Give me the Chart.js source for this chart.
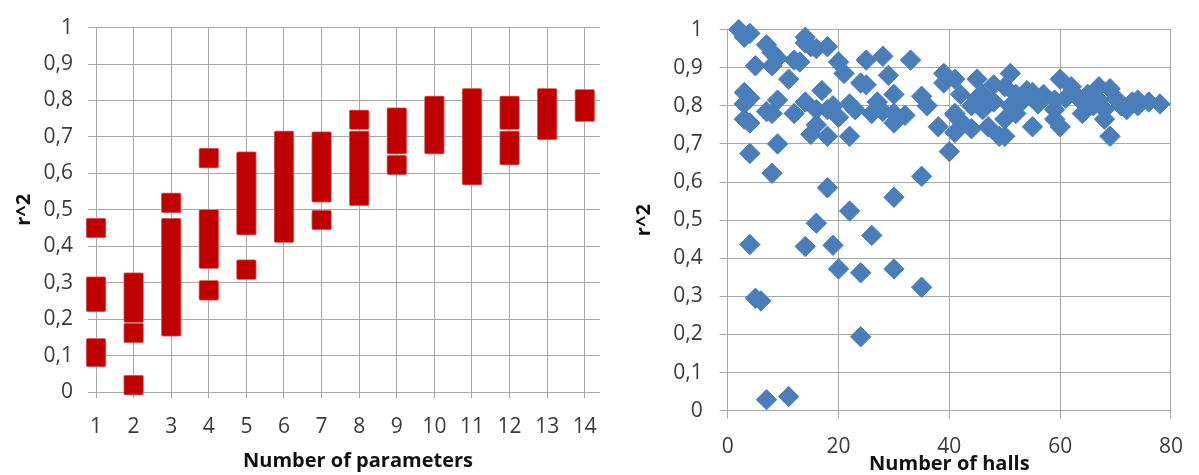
<!DOCTYPE html>
<html>
<head>
<meta charset="utf-8">
<script src="https://cdn.jsdelivr.net/npm/chart.js@4/dist/chart.umd.min.js"></script>
<style>
  html, body { margin: 0; padding: 0; background: #fff; }
  body { width: 1199px; height: 475px; position: relative; overflow: hidden; }
  #paramsBox { position: absolute; left: 0; top: 0; width: 600px; height: 475px; overflow: hidden; }
  #hallsBox { position: absolute; left: 600px; top: 0; width: 599px; height: 475px; }
  canvas { position: absolute; left: 0; top: 0; }
</style>
</head>
<body>
<div id="paramsBox"><canvas id="params" width="631" height="475"></canvas></div>
<div id="hallsBox"><canvas id="halls" width="599" height="475"></canvas></div>
<script>
// ---- r^2 by number of model parameters: each span is a run of model results (min and max r^2)
const paramCounts = [1, 2, 3, 4, 5, 6, 7, 8, 9, 10, 11, 12, 13, 14];
const spanParam = [1, 1, 1, 2, 2, 2, 3, 3, 4, 4, 4, 5, 5, 6, 7, 7, 8, 8, 9, 9, 10, 11, 12, 12, 13, 14];
const spanMin   = [0.450, 0.247, 0.096, 0.218, 0.162, 0.019, 0.519, 0.180, 0.642, 0.366, 0.279, 0.458, 0.336,
                   0.437, 0.548, 0.472, 0.747, 0.538, 0.680, 0.623, 0.680, 0.595, 0.747, 0.650, 0.719, 0.769];
const spanMax   = [0.450, 0.289, 0.120, 0.300, 0.162, 0.019, 0.519, 0.450, 0.642, 0.474, 0.279, 0.632, 0.336,
                   0.689, 0.687, 0.472, 0.747, 0.689, 0.753, 0.623, 0.785, 0.806, 0.785, 0.689, 0.806, 0.803];

// ---- r^2 by number of halls
const hallCount = [2, 3, 4, 5, 7, 8, 9, 8, 11, 12, 13, 14, 14, 15, 16, 18, 20, 21, 24, 25, 28, 29, 33, 17,
                   3, 4, 3, 9, 7, 3, 4, 8, 12, 14, 16, 18, 19, 16, 15, 18, 20, 22, 23, 22, 9, 4, 8, 18,
                   35, 30, 22, 16, 4, 14, 19, 26, 20, 24, 30, 35, 5, 6, 24, 7, 11,
                   25, 26, 27, 28, 30, 30, 30, 32, 35, 36, 38, 40, 39, 39, 41, 42, 45, 41, 41, 44, 44,
                   45, 46, 46, 47, 47, 48, 48, 49, 50, 50, 50, 51, 51, 52, 52, 53, 54, 55, 55, 56, 57,
                   59, 59, 59, 60, 60, 61, 62, 63, 64, 64, 65, 66, 67, 67, 68, 68, 69, 69, 70, 71, 72,
                   73, 74, 74, 76, 78, 42, 41];
const hallR2    = [1.00, 0.98, 0.99, 0.905, 0.96, 0.94, 0.925, 0.905, 0.87, 0.92, 0.915, 0.98, 0.965, 0.955,
                   0.95, 0.955, 0.915, 0.885, 0.86, 0.92, 0.93, 0.88, 0.92, 0.84,
                   0.835, 0.82, 0.805, 0.815, 0.785, 0.765, 0.755, 0.78, 0.78, 0.81, 0.79, 0.79, 0.80,
                   0.75, 0.725, 0.72, 0.77, 0.805, 0.79, 0.72, 0.70, 0.675, 0.623, 0.585,
                   0.615, 0.56, 0.524, 0.492, 0.436, 0.431, 0.434, 0.46, 0.372, 0.362, 0.372, 0.324,
                   0.295, 0.288, 0.194, 0.029, 0.037,
                   0.855, 0.78, 0.81, 0.785, 0.83, 0.78, 0.755, 0.775, 0.825, 0.80, 0.745, 0.68, 0.885,
                   0.86, 0.87, 0.83, 0.87, 0.78, 0.73, 0.74, 0.80,
                   0.82, 0.83, 0.79, 0.805, 0.745, 0.855, 0.81, 0.72, 0.72, 0.85, 0.765, 0.885, 0.80,
                   0.83, 0.78, 0.81, 0.84, 0.835, 0.745, 0.805, 0.83,
                   0.815, 0.79, 0.765, 0.87, 0.745, 0.82, 0.85, 0.825, 0.81, 0.78, 0.83, 0.80, 0.85,
                   0.815, 0.79, 0.765, 0.845, 0.72, 0.82, 0.80, 0.79,
                   0.81, 0.815, 0.80, 0.81, 0.805, 0.76, 0.776];

// ---- axis ticks
const r2Ticks = [0, 0.1, 0.2, 0.3, 0.4, 0.5, 0.6, 0.7, 0.8, 0.9, 1];
const r2TickLabels = ['0', '0,1', '0,2', '0,3', '0,4', '0,5', '0,6', '0,7', '0,8', '0,9', '1'];
const hallTicks = [0, 20, 40, 60, 80];

const RED = '#c00000';
const RED_EDGE = '#e07070';
const BLUE = '#4a7ebb';
const GRID = '#a8a8a8';
const TICK_COLOR = '#3a3a3a';
const TITLE_COLOR = '#111111';
const FAMILY = '"Open Sans", "DejaVu Sans", sans-serif';
const MARK_PX = 20;   // square marker size on the parameter chart

const tickFont = { family: FAMILY, size: 21 };
const titleFont = { family: FAMILY, size: 20, weight: 'bold', lineHeight: 1.0 };

const r2Label = v => {
  const i = r2Ticks.findIndex(t => Math.abs(t - v) < 1e-9);
  return i >= 0 ? r2TickLabels[i] : '';
};

const common = {
  responsive: false,
  animation: false,
  events: [],
  plugins: { legend: { display: false }, tooltip: { enabled: false } }
};

// ---- left: each span drawn as one bar covering its square markers
const paramsChart = new Chart(document.getElementById('params'), {
  type: 'bar',
  data: {
    datasets: [{
      data: [],
      backgroundColor: RED,
      borderColor: RED_EDGE,
      borderWidth: 1,
      borderRadius: 2,
      borderSkipped: false,
      barThickness: MARK_PX,
      grouped: false,
      clip: false
    }]
  },
  options: {
    ...common,
    layout: { padding: { top: 15, right: 3, left: 0, bottom: 0 } },
    scales: {
      x: {
        type: 'linear',
        offset: false,
        min: 0.787,
        max: 15.15,
        afterBuildTicks: s => { s.ticks = paramCounts.map(v => ({ value: v })); },
        afterFit: s => { s.height = 83; },
        ticks: { font: tickFont, color: TICK_COLOR, padding: 16, maxRotation: 0, autoSkip: false,
                 callback: v => String(v) },
        grid: { offset: false, color: GRID, lineWidth: 1, tickLength: 6, drawTicks: true },
        border: { display: false },
        title: { display: true, text: 'Number of parameters', font: titleFont, color: TITLE_COLOR,
                 padding: { top: 0, bottom: 4 } }
      },
      y: {
        min: 0,
        max: 1,
        afterBuildTicks: s => { s.ticks = r2Ticks.map(v => ({ value: v })); },
        afterFit: s => { s.width = 88; },
        ticks: { font: tickFont, color: TICK_COLOR, padding: 15, callback: r2Label },
        grid: { color: GRID, lineWidth: 1, drawTicks: false },
        border: { display: false },
        title: { display: true, text: 'r^2', font: titleFont, color: TITLE_COLOR,
                 padding: { top: 14, bottom: 0 } }
      }
    }
  }
});

// half a marker, expressed in r^2 units on the laid-out y scale
const yScale = paramsChart.scales.y;
const halfMark = yScale.getValueForPixel(yScale.bottom - MARK_PX / 2) - yScale.getValueForPixel(yScale.bottom);
paramsChart.data.datasets[0].data = spanParam.map((p, i) => ({
  x: p,
  y: [spanMin[i] - halfMark, spanMax[i] + halfMark]
}));
paramsChart.update();

// ---- right: r^2 against number of halls
new Chart(document.getElementById('halls'), {
  type: 'scatter',
  data: {
    datasets: [{
      data: hallCount.map((h, i) => ({ x: h, y: hallR2[i] })),
      pointStyle: 'rectRot',
      pointRadius: 10.2,
      backgroundColor: BLUE,
      borderColor: BLUE,
      borderWidth: 1,
      clip: false
    }]
  },
  options: {
    ...common,
    layout: { padding: { top: 12.7, right: 18, left: 0, bottom: 0 } },
    scales: {
      x: {
        type: 'linear',
        min: 0,
        max: 80,
        afterBuildTicks: s => { s.ticks = hallTicks.map(v => ({ value: v })); },
        afterFit: s => { s.height = 64.3; },
        ticks: { font: tickFont, color: TICK_COLOR, padding: 16, maxRotation: 0, autoSkip: false,
                 callback: v => String(v) },
        grid: { color: GRID, lineWidth: 1, tickLength: 8, drawTicks: true },
        border: { display: false },
        title: { display: true, text: 'Number of halls', font: titleFont, color: TITLE_COLOR,
                 padding: { top: 0, bottom: 1 } }
      },
      y: {
        min: 0,
        max: 1,
        afterBuildTicks: s => { s.ticks = r2Ticks.map(v => ({ value: v })); },
        afterFit: s => { s.width = 127.7; },
        ticks: { font: tickFont, color: TICK_COLOR, padding: 17, callback: r2Label },
        grid: { color: GRID, lineWidth: 1, tickLength: 8, drawTicks: true },
        border: { display: false },
        title: { display: true, text: 'r^2', font: titleFont, color: TITLE_COLOR,
                 padding: { top: 34, bottom: 0 } }
      }
    }
  }
});
</script>
</body>
</html>
